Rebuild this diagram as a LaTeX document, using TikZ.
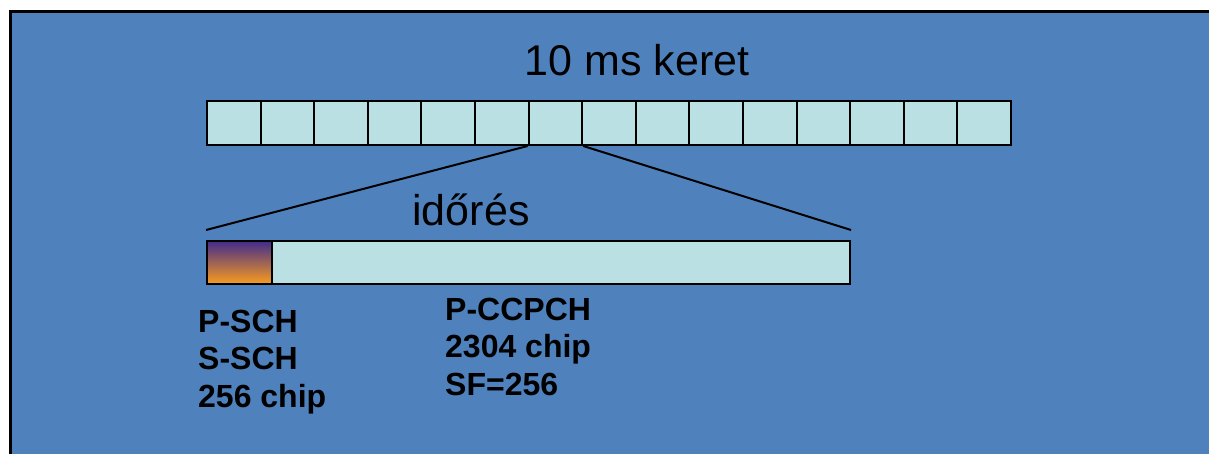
\documentclass[tikz,border=0pt]{standalone}
\usepackage{fontspec}
\setmainfont{Liberation Sans}
\usepackage{tikz}
\usetikzlibrary{positioning, calc}
\definecolor{slideblue}{RGB}{79,129,189}
\definecolor{cellcyan}{RGB}{187,224,227}
\definecolor{syncpurple}{RGB}{66,44,140}
\definecolor{syncmauve}{RGB}{190,112,112}
\definecolor{syncorange}{RGB}{250,156,30}

\begin{document}
\begin{tikzpicture}[x=1pt, y=-1pt,
  % one pixel of the slide is one point here
  cellbox/.style={rectangle, draw=black, fill=cellcyan, line width=2pt,
                  minimum width=53.6pt, minimum height=44pt, inner sep=0pt},
  slotbox/.style={rectangle, draw=black, fill=cellcyan, line width=2pt,
                  minimum height=43pt, inner sep=0pt},
  syncbox/.style={rectangle, draw=black, line width=2pt, top color=syncpurple,
                  middle color=syncmauve, bottom color=syncorange,
                  minimum width=65pt, minimum height=43pt, inner sep=0pt},
  zoomline/.style={line width=2pt, draw=black},
  titletext/.style={font=\fontsize{43}{48}\selectfont, inner sep=0pt},
  chlabel/.style={font=\fontsize{32}{37.5}\selectfont\bfseries, align=left,
                  inner sep=0pt}
]
\useasboundingbox (0,0) rectangle (1209,453);
\clip (0,0) rectangle (1209,453);

% Slide background
\fill[white] (0,0) rectangle (1209,453);
\draw[line width=3pt, fill=slideblue] (10.5,11.5) rectangle (1240,490);

% Frame - 15 slots
\foreach \i in {1,...,15}
  \node[cellbox] (cell\i) at ({207+53.6*(\i-0.5)}, 123) {};

\node[titletext, anchor=base] (frametitle) at (637,75) {10 ms keret};

% Expanded slot
\node[slotbox, minimum width=643pt] (slot) at (528.5,262.5) {};
\node[syncbox, anchor=west] (sync) at (slot.west) {};

\node[titletext, anchor=base] (slottitle) at (471,225) {időrés};

% Zoom lines
\coordinate (zoomleft)  at ($(slot.north west)+(0,-10)$);
\coordinate (zoomright) at ($(slot.north east)+(0,-10)$);
\draw[zoomline] (cell7.south west) -- (zoomleft);
\draw[zoomline] (cell7.south east) -- (zoomright);

% Channel labels (base = last line)
\node[chlabel, anchor=base west] (synclabel)  at (198,407) {P-SCH\\S-SCH\\256 chip};
\node[chlabel, anchor=base west] (ccpchlabel) at (445,395) {P-CCPCH\\2304 chip\\SF=256};

\end{tikzpicture}
\end{document}
